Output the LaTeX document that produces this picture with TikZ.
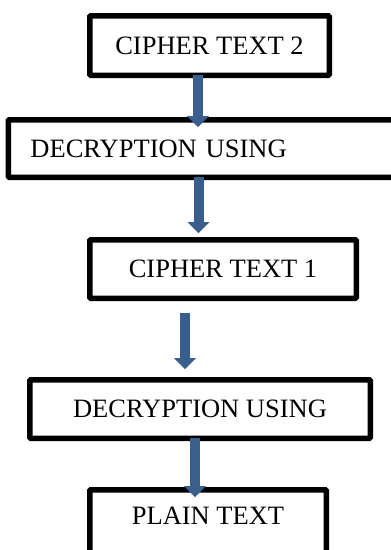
\documentclass[tikz,border=0pt]{standalone}
\usepackage{fontspec}
\setmainfont{Liberation Serif}
\usetikzlibrary{arrows.meta}
\definecolor{arrowblue}{HTML}{3A5F8D}
\begin{document}
\begin{tikzpicture}[x=1pt,y=-1pt,
  box/.style={draw=black, line width=5.5pt, rounded corners=1pt, fill=white,
    inner sep=0pt, outer sep=0pt, font=\fontsize{26.5}{30}\selectfont},
  blockarrow/.style={draw=arrowblue, line width=10pt,
    -{Triangle[width=22pt,length=11pt,line width=0pt]}}]
\useasboundingbox (0,0) rectangle (391,550);
\clip (0,0) rectangle (391,550);
\fill[white] (0,0) rectangle (391,550);
% boxes
\node[box, minimum width=239.5pt, minimum height=59.5pt] (b1) at (209.5,45.5) {CIPHER TEXT 2\hspace{8pt}};
\node[box, minimum height=57.5pt, text width=376pt, inner xsep=22.25pt, align=left] (b2) at (218.5,148.5) {DECRYPTION USING};
\node[box, minimum width=266.5pt, minimum height=58.5pt] (b3) at (223,269) {CIPHER TEXT 1};
\node[box, minimum width=340.5pt, minimum height=58.5pt] (b4) at (200,409) {DECRYPTION USING\hspace{4pt}};
\node[box, minimum width=236.5pt, minimum height=67.5pt] (b5) at (208,523.5) {\raisebox{15pt}{PLAIN TEXT}};
% arrow ends
\coordinate (t1) at (198,127);
\coordinate (t2) at (198.5,233);
\coordinate (s3) at (185,313);
\coordinate (t3) at (185,369);
\coordinate (t4) at (195,497);
% arrows
\draw[blockarrow] (b1.south -| t1) -- (t1);
\draw[blockarrow] (b2.south -| t2) -- (t2);
\draw[blockarrow] (s3) -- (t3);
\draw[blockarrow] (b4.south -| t4) -- (t4);
\end{tikzpicture}
\end{document}
